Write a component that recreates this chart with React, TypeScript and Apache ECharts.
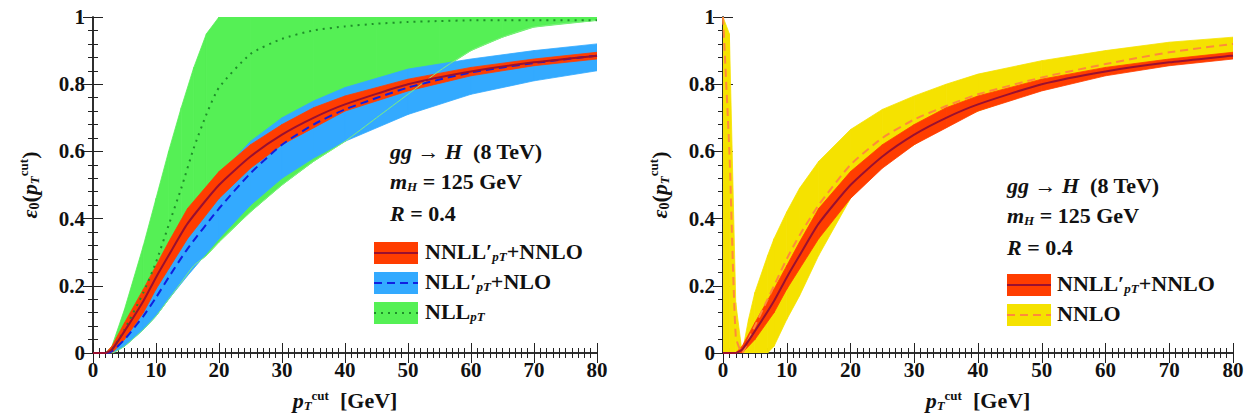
import React, { useEffect, useRef } from 'react';
import * as echarts from 'echarts';

// left panel
const X_RED = [0, 2, 3, 5, 8, 10, 12, 15, 20, 25, 30, 35, 40, 50, 60, 70, 80];
const RED_LO = [0, 0, 0, 0.04, 0.12, 0.19, 0.25, 0.34, 0.46, 0.55, 0.62, 0.67, 0.72, 0.78, 0.825, 0.855, 0.875];
const RED_HI = [0, 0, 0.02, 0.09, 0.19, 0.26, 0.33, 0.43, 0.54, 0.62, 0.68, 0.73, 0.765, 0.815, 0.85, 0.875, 0.895];
const RED_MID = [0, 0, 0.01, 0.065, 0.155, 0.225, 0.29, 0.385, 0.50, 0.585, 0.65, 0.70, 0.74, 0.80, 0.838, 0.865, 0.885];

const X_BLUE = [0, 2, 3, 5, 8, 10, 12, 15, 20, 25, 30, 35, 40, 50, 60, 70, 80];
const BLUE_LO = [0, 0, 0, 0.02, 0.07, 0.11, 0.16, 0.23, 0.34, 0.44, 0.52, 0.58, 0.63, 0.71, 0.77, 0.81, 0.84];
const BLUE_HI = [0, 0, 0.01, 0.07, 0.16, 0.23, 0.30, 0.40, 0.53, 0.63, 0.70, 0.75, 0.79, 0.845, 0.875, 0.90, 0.92];
const BLUE_MID = [0, 0, 0.005, 0.04, 0.11, 0.165, 0.225, 0.31, 0.43, 0.535, 0.62, 0.68, 0.725, 0.79, 0.835, 0.863, 0.885];

const X_GREEN = [0, 2, 3, 5, 8, 10, 12, 14, 16, 18, 20, 25, 30, 35, 40, 45, 50, 55, 60, 65, 70, 80];
const GREEN_LO = [0, 0, 0, 0.02, 0.07, 0.11, 0.16, 0.21, 0.26, 0.29, 0.33, 0.42, 0.50, 0.57, 0.63, 0.70, 0.77, 0.84, 0.90, 0.94, 0.97, 0.99];
const GREEN_HI = [0, 0, 0.02, 0.13, 0.32, 0.46, 0.60, 0.73, 0.85, 0.95, 1, 1, 1, 1, 1, 1, 1, 1, 1, 1, 1, 1];
const GREEN_MID = [0, 0, 0.01, 0.07, 0.18, 0.27, 0.38, 0.49, 0.61, 0.71, 0.79, 0.89, 0.935, 0.96, 0.972, 0.98, 0.985, 0.988, 0.99, 0.99, 0.99, 0.99];

// right panel
const X_YEL = [0, 1, 2, 3, 4, 5, 7, 8, 10, 12, 15, 20, 25, 30, 35, 40, 50, 60, 70, 80];
const YEL_LO = [0, 0, 0, 0, 0, 0, 0, 0.02, 0.10, 0.17, 0.29, 0.46, 0.56, 0.62, 0.68, 0.72, 0.785, 0.83, 0.86, 0.88];
const YEL_HI = [1, 0.95, 0.15, 0, 0.10, 0.18, 0.29, 0.34, 0.42, 0.49, 0.57, 0.665, 0.725, 0.765, 0.80, 0.83, 0.87, 0.90, 0.925, 0.94];
const YEL_MID = [1, 0.6, 0.05, 0, 0.04, 0.08, 0.16, 0.20, 0.28, 0.35, 0.44, 0.56, 0.64, 0.695, 0.735, 0.77, 0.82, 0.86, 0.895, 0.92];

const FONT = 'Liberation Serif';
const RED = '#ff3d00';
const DARKRED = '#9a1030';
const BLUE = '#33aaff';
const DBLUE = '#1020e0';
const GREEN = '#55f055';
const DGREEN = '#1f8f2a';
const YEL = '#f5e200';
const ORANGE = '#ff8a3a';

const pairs = (xs: number[], ys: number[]) => xs.map((x, i) => [x, ys[i]]);

// filled band between lo and hi, one quad per segment, through the axis scales
function band(xs: number[], lo: number[], hi: number[], color: string, axis: number) {
  return {
    type: 'custom', xAxisIndex: axis, yAxisIndex: axis, silent: true, clip: true,
    data: xs.slice(0, -1).map((x, i) => [x, lo[i], hi[i], xs[i + 1], lo[i + 1], hi[i + 1]]),
    renderItem: (_p: any, api: any) => {
      const a = api.coord([api.value(0), api.value(1)]);
      const b = api.coord([api.value(3), api.value(4)]);
      const c = api.coord([api.value(3), api.value(5)]);
      const d = api.coord([api.value(0), api.value(2)]);
      return {
        type: 'polygon', shape: { points: [a, b, c, d] },
        style: { fill: color, stroke: color, lineWidth: 0.8 },
      };
    },
  };
}

function line(xs: number[], ys: number[], color: string, type: any, width: number, axis: number) {
  return {
    type: 'line', xAxisIndex: axis, yAxisIndex: axis, symbol: 'none', smooth: 0.2,
    lineStyle: { color, type, width }, data: pairs(xs, ys), silent: true,
  };
}

const rich = {
  b: { fontFamily: FONT, fontSize: 22, fontWeight: 'bold', color: '#111' },
  i: { fontFamily: FONT, fontSize: 22, fontStyle: 'italic', fontWeight: 'bold', color: '#111' },
  s: { fontFamily: FONT, fontSize: 13, fontStyle: 'italic', fontWeight: 'bold', color: '#111', verticalAlign: 'bottom', padding: [10, 0, 0, 0] },
  n: { fontFamily: FONT, fontSize: 14, fontWeight: 'bold', color: '#111', verticalAlign: 'bottom', padding: [10, 0, 0, 0] },
  u: { fontFamily: FONT, fontSize: 13, fontWeight: 'bold', color: '#111', verticalAlign: 'top', padding: [0, 0, 10, 0] },
};

const App: React.FC = () => {
  const ref = useRef<HTMLDivElement>(null);

  useEffect(() => {
    if (!ref.current) return;
    const chart = echarts.init(ref.current, undefined, { renderer: 'svg' });

    const grids = [
      { left: 93, top: 17, width: 504, height: 336 },
      { left: 723, top: 17, width: 510, height: 336 },
    ];
    const xAxis: any[] = [];
    const yAxis: any[] = [];
    [0, 1].forEach((g) => {
      const base = {
        type: 'value', gridIndex: g, min: 0, interval: 10, max: 80,
        axisLine: { lineStyle: { color: '#222', width: 1.5 } },
        axisTick: { inside: true, length: 10, lineStyle: { color: '#222' } },
        minorTick: { show: true, splitNumber: 10, length: 5, lineStyle: { color: '#222' } },
        splitLine: { show: false },
      };
      xAxis.push({
        ...base, position: 'bottom',
        axisLabel: { fontFamily: FONT, fontSize: 21, fontWeight: 'bold', color: '#111', margin: 6 },
        name: '{i|p}{s|T}{u|cut}{b|  [GeV]}', nameLocation: 'middle', nameGap: 36,
        nameTextStyle: { rich },
      });
      xAxis.push({ ...base, position: 'top', axisLabel: { show: false } });
      const ybase = {
        type: 'value', gridIndex: g, min: 0, max: 1, interval: 0.2,
        axisLine: { lineStyle: { color: '#222', width: 1.5 } },
        axisTick: { inside: true, length: 10, lineStyle: { color: '#222' } },
        minorTick: { show: true, splitNumber: 5, length: 5, lineStyle: { color: '#222' } },
        splitLine: { show: false },
      };
      yAxis.push({
        ...ybase, position: 'left',
        axisLabel: { fontFamily: FONT, fontSize: 21, fontWeight: 'bold', color: '#111', margin: 8, formatter: (v: number) => String(Math.round(v * 10) / 10) },
        name: '{i|ε}{n|0}{b|(}{i|p}{s|T}{u|cut}{b|)}', nameLocation: 'middle', nameGap: 52, nameRotate: 90,
        nameTextStyle: { rich },
      });
      yAxis.push({ ...ybase, position: 'right', axisLabel: { show: false } });
    });
    // axis indices: 0 bottom/left of left panel, 2 bottom/left of right panel
    const L = 0;
    const R = 2;

    const series: any[] = [
      band(X_GREEN, GREEN_LO, GREEN_HI, GREEN, L),
      band(X_BLUE, BLUE_LO, BLUE_HI, BLUE, L),
      line(X_GREEN, GREEN_LO, '#7df07d', 'solid', 1, L),
      band(X_RED, RED_LO, RED_HI, RED, L),
      line(X_GREEN, GREEN_MID, DGREEN, [2, 5], 2, L),
      line(X_BLUE, BLUE_MID, DBLUE, [8, 5], 2, L),
      line(X_RED, RED_MID, DARKRED, 'solid', 2, L),
      band(X_YEL, YEL_LO, YEL_HI, YEL, R),
      band(X_RED, RED_LO, RED_HI, RED, R),
      line(X_YEL, YEL_MID, ORANGE, [8, 5], 2, R),
      line(X_RED, RED_MID, DARKRED, 'solid', 2, R),
    ];

    const txt = (x: number, y: number, text: string) => ({ type: 'text', x, y, z: 100, style: { text, rich, fill: '#111' } });
    const legRect = (x: number, y: number, fill: string) => ({ type: 'rect', z: 100, shape: { x, y, width: 44, height: 22 }, style: { fill } });
    const legLine = (x: number, y: number, stroke: string, dash: any) => ({ type: 'line', z: 101, shape: { x1: x, y1: y + 11, x2: x + 44, y2: y + 11 }, style: { stroke, lineWidth: 2, lineDash: dash } });

    const graphic: any[] = [
      txt(390, 140, '{i|gg}{b| → }{i|H}{b|  (8 TeV)}'),
      txt(390, 170, '{i|m}{s|H}{b| = 125 GeV}'),
      txt(390, 202, '{i|R}{b| = 0.4}'),
      legRect(374, 242, RED), legLine(374, 242, DARKRED, null),
      legRect(374, 272, BLUE), legLine(374, 272, DBLUE, [8, 5]),
      legRect(374, 302, GREEN), legLine(374, 302, DGREEN, [2, 5]),
      txt(425, 240, '{b|NNLL′}{s|pT}{b|+NNLO}'),
      txt(425, 270, '{b|NLL′}{s|pT}{b|+NLO}'),
      txt(425, 300, '{b|NLL}{s|pT}'),
      txt(1007, 174, '{i|gg}{b| → }{i|H}{b|  (8 TeV)}'),
      txt(1007, 204, '{i|m}{s|H}{b| = 125 GeV}'),
      txt(1007, 236, '{i|R}{b| = 0.4}'),
      legRect(1007, 274, RED), legLine(1007, 274, DARKRED, null),
      legRect(1007, 304, YEL), legLine(1007, 304, ORANGE, [8, 5]),
      txt(1057, 272, '{b|NNLL′}{s|pT}{b|+NNLO}'),
      txt(1057, 302, '{b|NNLO}'),
    ];

    chart.setOption({
      animation: false,
      grid: grids,
      xAxis,
      yAxis,
      series,
      graphic,
    });
    return () => chart.dispose();
  }, []);

  return <div ref={ref} style={{ position: 'absolute', left: 0, top: 0, width: 1251, height: 420, background: '#fff' }} />;
};

export default App;
